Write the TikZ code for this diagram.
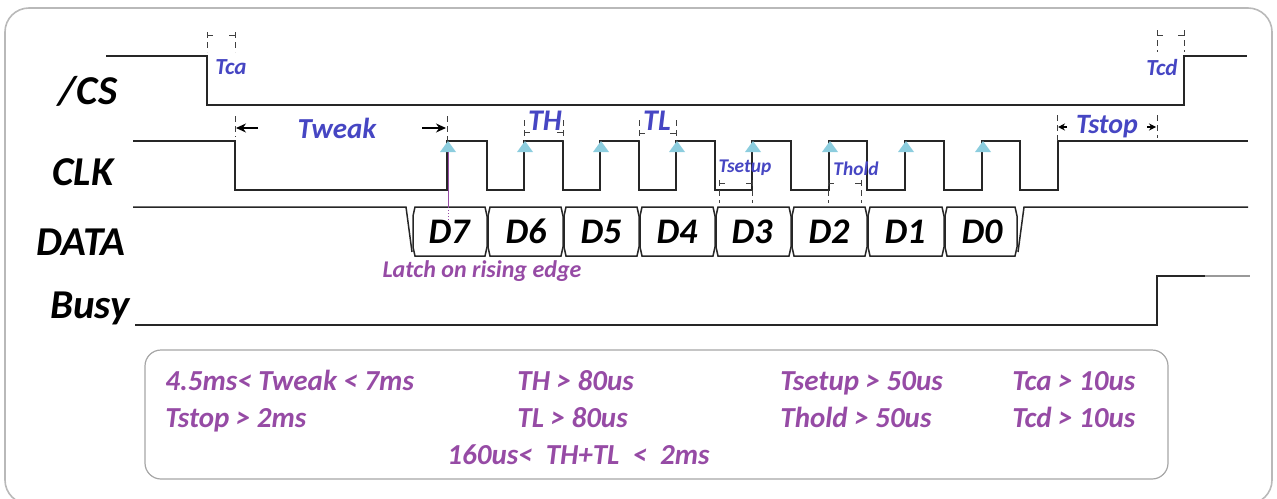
\documentclass[tikz,border=0pt]{standalone}
\usepackage{fontspec}
\setmainfont{Carlito}
\usetikzlibrary{arrows.meta}

\definecolor{tblue}{RGB}{70,70,195}
\definecolor{tpurple}{RGB}{150,75,165}
\definecolor{tcyan}{RGB}{140,205,222}

\newcommand{\bi}[1]{\fontsize{#1}{#1}\selectfont\bfseries\itshape}

\tikzset{
  wave/.style={line width=0.75pt, black!85, line join=miter},
  marker/.style={densely dashed, line width=0.4pt, black!75},
  tick/.style={line width=0.4pt, black!75},
  dimarrow/.style={line width=0.6pt, -{Stealth[length=5pt,width=4.5pt]}},
  smallarrow/.style={line width=0.6pt, -{Stealth[length=3.5pt,width=3.5pt]}},
  signame/.style={font=\bi{20.5}, anchor=base, inner sep=0pt},
  bitname/.style={font=\bi{18}, anchor=base, inner sep=0pt},
  timing/.style={text=tblue, inner sep=0pt},
  spec/.style={text=tpurple, font=\bi{14.5}, anchor=base west, inner sep=0pt},
}

\begin{document}
\begin{tikzpicture}[x=0.5pt, y=-0.5pt]
    \useasboundingbox (0,0) rectangle (1277,498);
    \clip (0,0) rectangle (1277,498);

    % frames
    \draw [gray!55, line width=0.8pt, rounded corners=12pt] (5,8) rectangle (1272,504);
    \draw [gray!70, line width=0.6pt, rounded corners=8pt] (145,350) rectangle (1168,479);

    % signal names
    \node [signame] (cs)   at (88,104) {/CS};
    \node [signame] (clk)  at (83,185) {CLK};
    \node [signame] (data) at (81,255) {DATA};
    \node [signame] (busy) at (90,318) {Busy};

    % /CS
    \draw [wave] (106,56) -- (207,56) -- (207,105) -- (1184,105) -- (1184,56) -- (1247,56);

    % CLK
    \draw [wave] (133,141) -- (235,141) -- (235,190)
      foreach \r/\f in {447/487,524/563,600/639,676/715,752/791,829/867,905/944,982/1020}
        { -- (\r,190) -- (\r,141) -- (\f,141) -- (\f,190) }
      -- (1058,190) -- (1058,141) -- (1248,141);

    % rising edge marks
    \foreach \x in {448,525,601,677,753,830,906,983}
      \fill [tcyan] (\x,141) -- ++(8,11) -- ++(-16,0) -- cycle;

    % DATA
    \draw [wave] (133,207) -- (406,207) -- (412,252);
    \draw [wave] (1018,252) -- (1024,207) -- (1248,207);
    \foreach \l/\r in {415/485,490/561,566/637,642/713,718/789,794/865,870/942,947/1015}
      \draw [wave] (\l,207) -- (\r,207) -- ++(2,9) -- ++(0,31) -- ++(-2,9)
        -- (\l,256) -- ++(-2,-9) -- ++(0,-31) -- cycle;
    \foreach \x/\d in {449/7,526/6,601/5,677/4,752/3,829/2,905/1,982/0}
      \node [bitname] (d\d) at (\x,243) {D\d};

    % Busy
    \draw [wave] (135,325) -- (1157,325) -- (1157,276) -- (1205,276);
    \draw [wave, black!40] (1205,276) -- (1250,276);

    % latch
    \coordinate (edge7) at (448,152);
    \coordinate (top7) at (448,207);
    \draw [tpurple, line width=0.5pt] (edge7) -- (top7);
    \draw [tpurple, densely dotted, line width=0.5pt] (top7) -- (448,222);
    \node [text=tpurple, font=\bi{12}, inner sep=0pt] (latch) at (482,271) {Latch on rising edge};

    % time markers
    \foreach \a/\b/\ya/\yb/\yt in {207/235/32/52/35, 1157/1184/30/52/35,
        524/563/120/141/132, 639/676/120/141/133, 719/752/180/203/183, 828/861/180/203/183}
    {
      \draw [marker] (\a,\ya) -- (\a,\yb);
      \draw [marker] (\b,\ya) -- (\b,\yb);
      \draw [tick] (\a,\yt) -- ++(6,0);
      \draw [tick] (\b,\yt) -- ++(-6,0);
    }
    \foreach \x/\ya/\yb in {235/116/137, 447/116/141, 1057/115/141, 1157/115/138}
      \draw [marker] (\x,\ya) -- (\x,\yb);
    \draw [dimarrow] (258,128) -- (236,128);
    \draw [dimarrow] (422,128) -- (446,128);
    \draw [smallarrow] (1067,127) -- (1058,127);
    \draw [smallarrow] (1147,127) -- (1156,127);

    % timing names
    \node [timing, font=\bi{11.5}] (tca)    at (231,67)  {Tca};
    \node [timing, font=\bi{11.5}] (tcd)    at (1162,68) {Tcd};
    \node [timing, font=\bi{14.5}] (tweak)  at (337,128) {Tweak};
    \node [timing, font=\bi{15}]   (th)     at (545,121) {TH};
    \node [timing, font=\bi{15}]   (tl)     at (657,121) {TL};
    \node [timing, font=\bi{9.7}]  (tsetup) at (745,168) {Tsetup};
    \node [timing, font=\bi{9.7}]  (thold)  at (856,169) {Thold};
    \node [timing, font=\bi{14}]   (tstop)  at (1107,127) {Tstop};

    % limits
    \node [spec] (s1) at (165,390) {4.5ms< Tweak < 7ms};
    \node [spec] (s2) at (165,427) {Tstop > 2ms};
    \node [spec] (s3) at (517,390) {TH > 80us};
    \node [spec] (s4) at (517,427) {TL > 80us};
    \node [spec] (s5) at (447,464) {160us<\ \ TH+TL\ \ <\ \ 2ms};
    \node [spec] (s6) at (780,390) {Tsetup > 50us};
    \node [spec] (s7) at (780,427) {Thold > 50us};
    \node [spec] (s8) at (1012,390) {Tca > 10us};
    \node [spec] (s9) at (1012,427) {Tcd > 10us};
\end{tikzpicture}
\end{document}
